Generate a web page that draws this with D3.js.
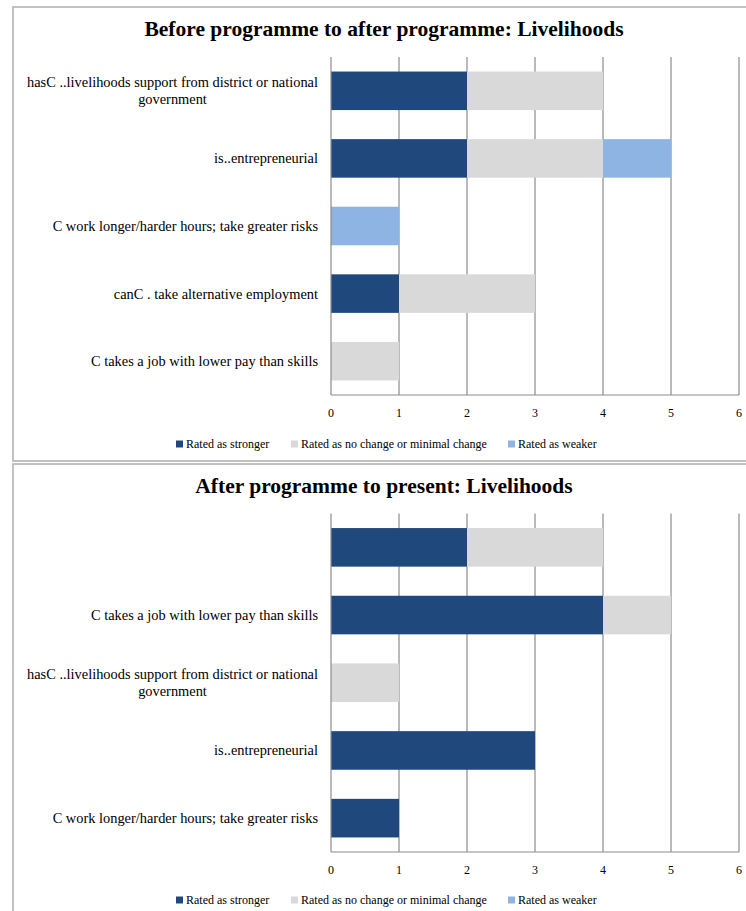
<!DOCTYPE html>
<html>
<head>
<meta charset="utf-8">
<script src="https://cdn.jsdelivr.net/npm/d3@7"></script>
<style>
  html, body { margin: 0; padding: 0; background: #fff; }
  svg { display: block; }
  text { font-family: "Liberation Serif", "Times New Roman", serif; fill: #000; }
</style>
</head>
<body>
<svg id="chart" width="746" height="911"></svg>
<script>
// Series names and colours
const seriesNames = ["Rated as stronger", "Rated as no change or minimal change", "Rated as weaker"];
const seriesColors = ["#1F497D", "#D9D9D9", "#8EB4E3"];
const tickValues = [0, 1, 2, 3, 4, 5, 6];

// Panel 1: before programme to after programme
const title1 = "Before programme to after programme: Livelihoods";
const categories1 = [
  "hasC ..livelihoods support from district or national government",
  "is..entrepreneurial",
  "C work longer/harder hours; take greater risks",
  "canC . take alternative employment",
  "C takes a job with lower pay than skills"
];
const stronger1 = [2, 2, 0, 1, 0];
const noChange1 = [2, 2, 0, 2, 1];
const weaker1   = [0, 1, 1, 0, 0];

// Panel 2: after programme to present
const title2 = "After programme to present: Livelihoods";
const categories2 = [
  "",
  "C takes a job with lower pay than skills",
  "hasC ..livelihoods support from district or national government",
  "is..entrepreneurial",
  "C work longer/harder hours; take greater risks"
];
const stronger2 = [2, 4, 0, 3, 1];
const noChange2 = [2, 1, 1, 0, 0];
const weaker2   = [0, 0, 0, 0, 0];

const svg = d3.select("#chart");
const x = d3.scaleLinear().domain([0, 6]).range([331, 739]);
const labelSize = "14.4px";

function wrapLabel(sel, text, maxWidth) {
  const words = text.split(" ");
  const lines = [];
  let cur = "";
  const probe = sel.append("text").style("font-size", labelSize);
  words.forEach(w => {
    const test = cur ? cur + " " + w : w;
    probe.text(test);
    if (probe.node().getComputedTextLength() > maxWidth && cur) {
      lines.push(cur);
      cur = w;
    } else {
      cur = test;
    }
  });
  if (cur) lines.push(cur);
  let blockW = 0;
  lines.forEach(l => { probe.text(l); blockW = Math.max(blockW, probe.node().getComputedTextLength()); });
  probe.remove();
  return { lines, blockW };
}

function drawPanel(cfg) {
  const g = svg.append("g");
  const { top, title, categories, series, plotTop, plotBottom, titleY, tickY, legendY } = cfg;

  // outer frame
  g.append("rect")
    .attr("x", 13).attr("y", top)
    .attr("width", 760).attr("height", cfg.height)
    .attr("fill", "#fff")
    .attr("stroke", "#b3b3b3").attr("stroke-width", 1.6);

  g.append("text")
    .attr("x", 384).attr("y", titleY)
    .attr("text-anchor", "middle")
    .style("font-size", "21.5px").style("font-weight", "bold")
    .text(title);

  const y = d3.scaleBand()
    .domain(d3.range(categories.length))
    .range([plotTop, plotBottom])
    .paddingInner(0.43).paddingOuter(0.215);

  // vertical gridlines
  g.append("g").selectAll("line")
    .data(tickValues.slice(1))
    .join("line")
    .attr("x1", d => x(d)).attr("x2", d => x(d))
    .attr("y1", plotTop).attr("y2", plotBottom)
    .attr("stroke", "#8c8c8c").attr("stroke-width", 1.2);

  // stacked bars
  const stackData = categories.map((c, i) => ({
    i, s0: series[0][i], s1: series[1][i], s2: series[2][i]
  }));
  const stack = d3.stack().keys(["s0", "s1", "s2"])(stackData);
  stack.forEach((layer, k) => {
    g.append("g").selectAll("rect")
      .data(layer.filter(d => d[1] > d[0]))
      .join("rect")
      .attr("x", d => x(d[0]))
      .attr("width", d => x(d[1]) - x(d[0]))
      .attr("y", d => y(d.data.i))
      .attr("height", y.bandwidth())
      .attr("fill", seriesColors[k]);
  });

  // axis lines
  g.append("line")
    .attr("x1", x(0)).attr("x2", x(0))
    .attr("y1", plotTop).attr("y2", plotBottom)
    .attr("stroke", "#8c8c8c").attr("stroke-width", 1.2);
  g.append("line")
    .attr("x1", x(0)).attr("x2", x(6))
    .attr("y1", plotBottom).attr("y2", plotBottom)
    .attr("stroke", "#8c8c8c").attr("stroke-width", 1.2);

  // x tick labels
  g.append("g").selectAll("text")
    .data(tickValues)
    .join("text")
    .attr("x", d => x(d)).attr("y", tickY)
    .attr("text-anchor", "middle")
    .style("font-size", "12px")
    .text(d => d);

  // category labels
  categories.forEach((c, i) => {
    if (!c) return;
    const { lines, blockW } = wrapLabel(g, c, 300);
    const right = 318;
    const cx = right - blockW / 2;
    const cy = y(i) + y.bandwidth() / 2;
    const lh = 17;
    lines.forEach((l, j) => {
      g.append("text")
        .attr("x", lines.length > 1 ? cx : right)
        .attr("y", cy + (j - (lines.length - 1) / 2) * lh)
        .attr("dy", "0.35em")
        .attr("text-anchor", lines.length > 1 ? "middle" : "end")
        .style("font-size", labelSize)
        .text(l);
    });
  });

  // legend
  const legendX = [176, 291, 508];
  seriesNames.forEach((n, k) => {
    g.append("rect")
      .attr("x", legendX[k]).attr("y", legendY - 3.5)
      .attr("width", 7).attr("height", 7)
      .attr("fill", seriesColors[k]);
    g.append("text")
      .attr("x", legendX[k] + 10).attr("y", legendY)
      .attr("dy", "0.35em")
      .style("font-size", "12px")
      .text(n);
  });
}

drawPanel({
  top: 7, height: 454, title: title1, categories: categories1,
  series: [stronger1, noChange1, weaker1],
  plotTop: 57, plotBottom: 395, titleY: 36, tickY: 417, legendY: 444
});
drawPanel({
  top: 464, height: 480, title: title2, categories: categories2,
  series: [stronger2, noChange2, weaker2],
  plotTop: 513.5, plotBottom: 852, titleY: 493, tickY: 874, legendY: 900
});
</script>
</body>
</html>
